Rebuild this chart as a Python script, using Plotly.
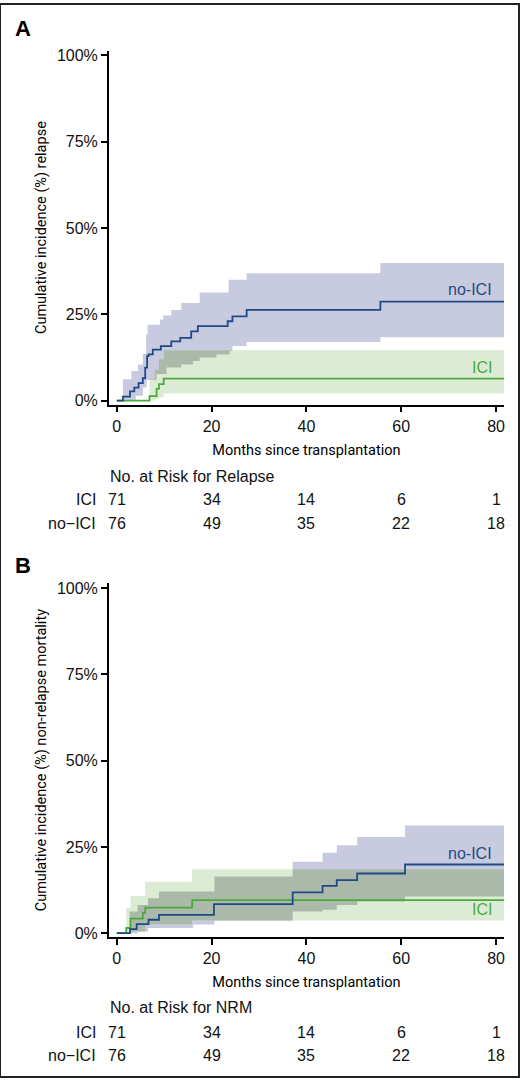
import numpy as np
import plotly.graph_objects as go

# ---- data: cumulative incidence (%) ----
# panel A: relapse
rel_noici_t = [0, 1.3, 2.8, 3.7, 4.6, 5.5, 6.0, 6.4, 6.7, 7.6, 9.3, 11.5, 13.4, 15.7, 17.1, 23.4, 24.4, 27.4, 55.6, 81.7]
rel_noici_est = [0, 1.2, 2.7, 3.8, 5.1, 6.5, 9.6, 12.9, 13.4, 14.8, 15.8, 17.2, 18.2, 20.1, 21.6, 23.0, 24.4, 26.3, 28.7, 28.7]
rel_noici_band_t = [0, 1.3, 3.1, 4.0, 4.5, 5.5, 6.2, 6.3, 6.5, 8.4, 9.1, 9.8, 10.5, 11.5, 13.6, 16.1, 17.5, 21.0, 23.6, 23.8, 24.4, 27.4, 55.6, 81.7]
rel_noici_hi = [0, 6.2, 8.6, 8.6, 10.5, 13.5, 19.2, 19.2, 22.0, 22.0, 23.5, 24.7, 24.7, 26.3, 28.3, 28.3, 31.3, 31.3, 35.0, 35.0, 35.0, 36.9, 39.9, 39.9]
rel_noici_lo = [0, 0, 0, 1.4, 1.4, 3.8, 3.8, 6.0, 6.0, 7.7, 7.7, 7.7, 9.6, 9.6, 10.5, 11.5, 12.5, 13.4, 13.4, 14.4, 15.8, 17.0, 18.4, 18.4]

rel_ici_t = [0, 6.9, 8.4, 8.9, 9.9, 81.7]
rel_ici_est = [0, 1.3, 3.4, 4.8, 6.4, 6.4]
rel_ici_band_t = [0, 6.9, 8.0, 8.9, 9.9, 81.7]
rel_ici_hi = [0, 6.2, 9.0, 12.0, 14.6, 14.6]
rel_ici_lo = [0, 0, 0.5, 1.0, 2.1, 2.1]

# panel B: non-relapse mortality
nrm_noici_t = [0, 2.8, 4.2, 6.7, 8.9, 20.5, 37.1, 43.4, 46.4, 50.7, 60.8, 81.7]
nrm_noici_est = [0, 1.2, 2.6, 3.9, 5.3, 8.4, 11.8, 13.7, 15.4, 17.3, 19.9, 19.9]
nrm_noici_band_t = [0, 2.7, 4.4, 6.6, 8.9, 16.1, 20.6, 37.1, 43.4, 46.4, 50.7, 60.8, 81.7]
nrm_noici_hi = [0, 6.3, 8.2, 10.1, 12.1, 12.1, 16.4, 20.7, 23.3, 25.5, 27.9, 31.2, 31.2]
nrm_noici_lo = [0, 0, 0.5, 1.5, 1.5, 2.5, 3.7, 6.3, 6.8, 8.2, 9.2, 10.6, 10.6]

nrm_ici_t = [0, 2.0, 2.9, 5.5, 6.0, 15.9, 81.7]
nrm_ici_est = [0, 1.5, 4.2, 5.9, 7.4, 9.6, 9.6]
nrm_ici_band_t = [0, 2.0, 2.9, 6.0, 15.9, 81.7]
nrm_ici_hi = [0, 7.3, 10.8, 14.9, 18.5, 18.5]
nrm_ici_lo = [0, 0, 0.5, 2.5, 3.7, 3.7]

# axis ticks
pct_ticks = [0, 25, 50, 75, 100]
pct_labels = ["0%", "25%", "50%", "75%", "100%"]

# numbers at risk
risk_months = [0, 20, 40, 60, 80]
risk_rel_ici = [71, 34, 14, 6, 1]
risk_rel_noici = [76, 49, 35, 22, 18]
risk_nrm_ici = [71, 34, 14, 6, 1]
risk_nrm_noici = [76, 49, 35, 22, 18]

BLUE = "#1f4a86"
GREEN = "#4ea93d"
BLUE_BAND = "#c8cadf"
GREEN_BAND = "#dcebd4"
OVERLAP_BAND = "#abb9ab"
LABEL_FONT = "Liberation Sans, Arial, sans-serif"
NARROW_FONT = "Liberation Sans Narrow, Roboto, sans-serif"

W, H = 520, 1082


def _step_at(t_arr, v_arr, t):
    idx = np.searchsorted(np.asarray(t_arr), t, side="right") - 1
    return np.asarray(v_arr)[idx]


def _band(fig, t, lo, hi, color, xaxis, yaxis):
    fig.add_trace(go.Scatter(x=t, y=lo, mode="lines", line=dict(width=0, shape="hv", color=color),
                             hoverinfo="skip", xaxis=xaxis, yaxis=yaxis))
    fig.add_trace(go.Scatter(x=t, y=hi, mode="lines", line=dict(width=0, shape="hv", color=color),
                             fill="tonexty", fillcolor=color, hoverinfo="skip", xaxis=xaxis, yaxis=yaxis))


def _overlap(t1, lo1, hi1, t2, lo2, hi2):
    t = np.union1d(t1, t2)
    lo = np.maximum(_step_at(t1, lo1, t), _step_at(t2, lo2, t))
    hi = np.minimum(_step_at(t1, hi1, t), _step_at(t2, hi2, t))
    hi = np.maximum(hi, lo)
    return t, lo, hi


def _panel(fig, xaxis, yaxis, noici, ici):
    (nt, ne, nbt, nlo, nhi) = noici
    (it, ie, ibt, ilo, ihi) = ici
    _band(fig, nbt, nlo, nhi, BLUE_BAND, xaxis, yaxis)
    _band(fig, ibt, ilo, ihi, GREEN_BAND, xaxis, yaxis)
    ot, olo, ohi = _overlap(nbt, nlo, nhi, ibt, ilo, ihi)
    _band(fig, ot, olo, ohi, OVERLAP_BAND, xaxis, yaxis)
    fig.add_trace(go.Scatter(x=it, y=ie, mode="lines", line=dict(color=GREEN, width=1.8, shape="hv"),
                             hoverinfo="skip", xaxis=xaxis, yaxis=yaxis))
    fig.add_trace(go.Scatter(x=nt, y=ne, mode="lines", line=dict(color=BLUE, width=1.8, shape="hv"),
                             hoverinfo="skip", xaxis=xaxis, yaxis=yaxis))


fig = go.Figure()
_panel(fig, "x", "y",
       (rel_noici_t, rel_noici_est, rel_noici_band_t, rel_noici_lo, rel_noici_hi),
       (rel_ici_t, rel_ici_est, rel_ici_band_t, rel_ici_lo, rel_ici_hi))
_panel(fig, "x2", "y2",
       (nrm_noici_t, nrm_noici_est, nrm_noici_band_t, nrm_noici_lo, nrm_noici_hi),
       (nrm_ici_t, nrm_ici_est, nrm_ici_band_t, nrm_ici_lo, nrm_ici_hi))

x_dom = [109 / W, 505 / W]
tick_font = dict(family=LABEL_FONT, size=16, color="#111")
title_font = dict(family=NARROW_FONT, size=14.5, color="#000")
common_x = dict(range=[-1.68, 81.68], domain=x_dom, showline=True, linecolor="black", linewidth=1.5,
                ticks="outside", ticklen=6, tickwidth=1.5, tickcolor="black", tickvals=risk_months,
                showgrid=False, zeroline=False, tickfont=tick_font,
                title=dict(text="Months since transplantation", standoff=11, font=title_font))
common_y = dict(range=[-1.15, 101.4], showline=True, linecolor="black", linewidth=1.5,
                ticks="outside", ticklen=6, tickwidth=1.5, tickcolor="black",
                tickmode="array", tickvals=pct_ticks, ticktext=pct_labels,
                showgrid=False, zeroline=False, tickfont=tick_font)

fig.update_layout(
    width=W, height=H, showlegend=False, hovermode=False,
    margin=dict(l=0, r=0, t=0, b=0),
    paper_bgcolor="white", plot_bgcolor="white",
    xaxis=dict(common_x, anchor="y"),
    yaxis=dict(common_y, domain=[1 - 404 / H, 1 - 47 / H], anchor="x",
               title=dict(text="Cumulative incidence (%) relapse", standoff=7, font=title_font)),
    xaxis2=dict(common_x, anchor="y2"),
    yaxis2=dict(common_y, domain=[1 - 941 / H, 1 - 584 / H], anchor="x2",
                title=dict(text="Cumulative incidence (%) non-relapse mortality", standoff=7,
                           font=title_font)),
)

# curve labels
for xa, ya, y_no, y_ici in (("x", "y", 32.2, 9.5), ("x2", "y2", 23.0, 6.9)):
    fig.add_annotation(x=79.5, y=y_no, xref=xa, yref=ya, text="no-ICI", showarrow=False,
                       xanchor="right", font=dict(family=LABEL_FONT, size=16, color=BLUE))
    fig.add_annotation(x=79.5, y=y_ici, xref=xa, yref=ya, text="ICI", showarrow=False,
                       xanchor="right", font=dict(family=LABEL_FONT, size=16, color=GREEN))

# panel letters
for letter, ypx in (("A", 25), ("B", 566)):
    fig.add_annotation(x=13 / W, y=1 - ypx / H, xref="paper", yref="paper", text="<b>%s</b>" % letter,
                       showarrow=False, xanchor="left", yanchor="middle",
                       font=dict(family=LABEL_FONT, size=22, color="black"))

# risk tables
tables = (
    ("x", "No. at Risk for Relapse", 476, 500, 524, risk_rel_ici, risk_rel_noici),
    ("x2", "No. at Risk for NRM", 1012, 1037, 1060, risk_nrm_ici, risk_nrm_noici),
)
for xa, head, y_head, y_ici, y_no, ici_vals, no_vals in tables:
    tfont = dict(family=LABEL_FONT, size=16, color="#111")
    fig.add_annotation(x=108 / W, y=1 - y_head / H, xref="paper", yref="paper", text=head,
                       showarrow=False, xanchor="left", yanchor="middle", font=tfont)
    for label, ypx, vals in (("ICI", y_ici, ici_vals), ("no\u2212ICI", y_no, no_vals)):
        fig.add_annotation(x=98 / W, y=1 - ypx / H, xref="paper", yref="paper", text=label,
                           showarrow=False, xanchor="right", yanchor="middle", font=tfont)
        for m, v in zip(risk_months, vals):
            fig.add_annotation(x=m, y=1 - ypx / H, xref=xa, yref="paper", text=str(v),
                               showarrow=False, xanchor="center", yanchor="middle", font=tfont)

# outer frame
fig.add_shape(type="rect", xref="paper", yref="paper", x0=0, y0=0, x1=1, y1=1,
              line=dict(color="#222", width=2))

fig.write_html("out.html", config={"displayModeBar": False},
               post_script="document.body.style.margin='0';document.body.style.overflow='hidden';")
